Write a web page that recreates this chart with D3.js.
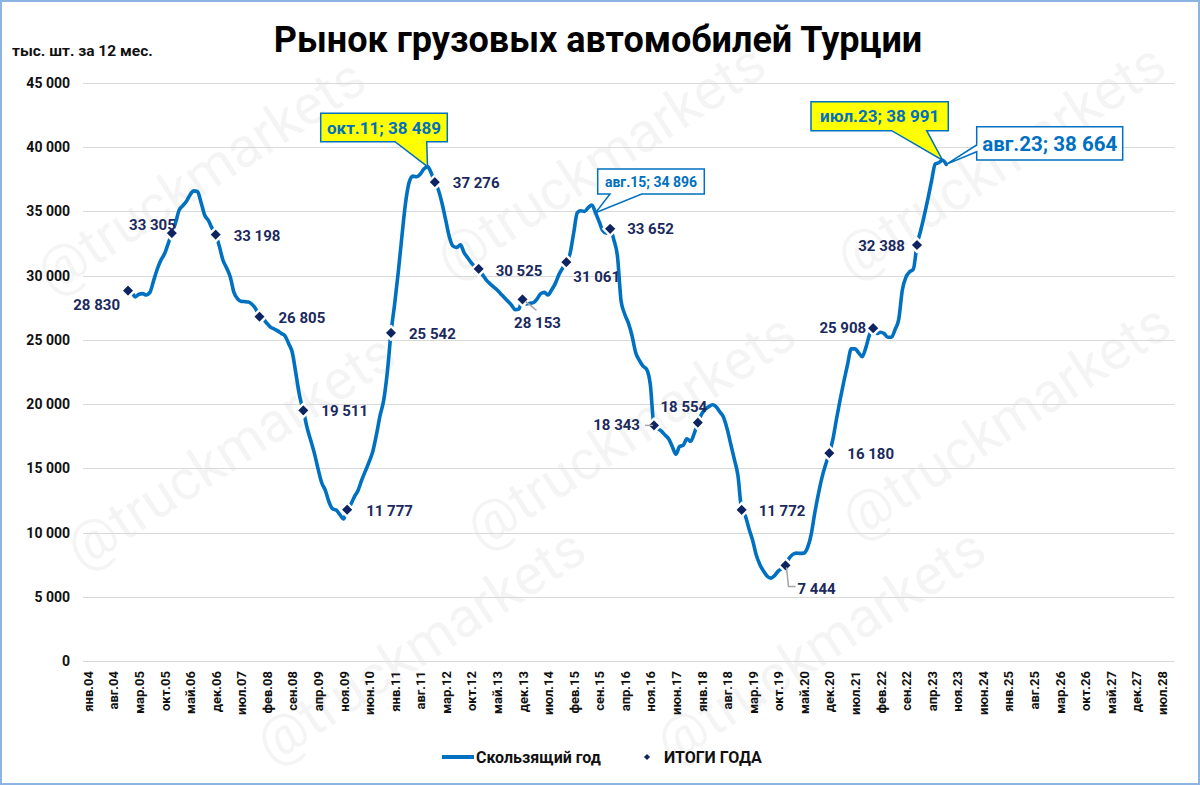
<!DOCTYPE html>
<html><head><meta charset="utf-8">
<script src="https://cdn.jsdelivr.net/npm/d3@7/dist/d3.min.js"></script>
<style>
html,body{margin:0;padding:0;background:#fff;}
svg{display:block;font-family:Roboto,"Noto Sans",sans-serif;}
</style></head>
<body>
<svg id="chart" width="1200" height="785"></svg>
<script>
// ---------------- DATA ----------------
const title = "Рынок грузовых автомобилей Турции";
const yAxisTitle = "тыс. шт. за 12 мес.";
const legendLine = "Скользящий год";
const legendMarker = "ИТОГИ ГОДА";

// x tick labels (every 7th month starting янв.04, month index 0 = янв.04)
const tickLabels = ["янв.04","авг.04","мар.05","окт.05","май.06","дек.06","июл.07","фев.08","сен.08","апр.09","ноя.09","июн.10","янв.11","авг.11","мар.12","окт.12","май.13","дек.13","июл.14","фев.15","сен.15","апр.16","ноя.16","июн.17","янв.18","авг.18","мар.19","окт.19","май.20","дек.20","июл.21","фев.22","сен.22","апр.23","ноя.23","июн.24","янв.25","авг.25","мар.26","окт.26","май.27","дек.27","июл.28"];
const monthCount = 298; // янв.04 .. окт.28 categories on the axis
const yTicks = [0,5000,10000,15000,20000,25000,30000,35000,40000,45000];

// rolling 12-month sales, monthly, starting дек.04 (month index 11) through авг.23
const rollingStart = 11;
const rollingValues = [
  28830,
  28700,28350,28550,28600,28500,28700,29600,30500,31200,31700,32500,33305,
  34100,35100,35450,35800,36300,36600,36550,35700,34700,34300,33700,33198,
  32300,31200,30600,29900,28700,28200,28000,27980,27950,27750,27400,26805,
  26650,26300,26000,25850,25700,25500,25300,24700,24000,22300,20600,19511,
  18200,17200,16200,15000,13900,13300,12400,11850,11750,11400,11050,11777,
  12200,12800,13300,14100,14800,15500,16300,17600,19100,20300,22500,25542,
  27800,30300,33100,35700,37300,37750,37700,37900,38300,38489,38000,37276,
  36650,35600,34300,33000,32300,32200,32400,31800,31400,31000,30700,30525,
  30100,29700,29400,29150,28900,28600,28300,28000,27700,27350,27400,28153,
  27800,27850,27900,28200,28600,28700,28500,28900,29400,30100,30600,31061,
  31700,33300,34900,35050,35000,35300,35500,34896,34200,33500,33300,33652,
  32800,31500,28000,27000,26300,25300,24000,23400,22950,22700,21500,18343,
  18100,17900,17600,17300,16700,16100,16700,16800,17300,17100,17700,18554,
  19200,19600,19800,19950,19800,19400,19000,18100,16900,15700,14400,11772,
  11300,10300,9400,8250,7500,7000,6600,6450,6650,7000,7200,7444,
  8000,8300,8400,8380,8400,8800,9800,11500,13000,14300,15300,16180,
  17300,18900,20400,21800,23100,24300,24300,24000,23700,24400,25400,25908,
  25500,25600,25500,25200,25200,25800,26600,28900,29900,30300,30500,32388,
  33500,34700,36000,37400,38700,38800,38991,38664
];

// year totals (дек. of each year)
const yearLabels = ["2004","2005","2006","2007","2008","2009","2010","2011","2012","2013","2014","2015","2016","2017","2018","2019","2020","2021","2022"];
const yearTotals = [28830,33305,33198,26805,19511,11777,25542,37276,30525,28153,31061,33652,18343,18554,11772,7444,16180,25908,32388];

// highlighted points
const callouts = [
  {label:"окт.11; 38 489", month:93,  value:38489, style:"yellow"},
  {label:"авг.15; 34 896", month:139, value:34896, style:"white"},
  {label:"июл.23; 38 991", month:234, value:38991, style:"yellow"},
  {label:"авг.23; 38 664", month:235, value:38664, style:"whiteBig"}
];

// ---------------- LAYOUT ----------------
const svg = d3.select("#chart");
const W = 1200, H = 785;
const plot = {left:86, right:1174.5, top:83, bottom:661};
const blue = "#0070C0", navy = "#0E2361";
const FONT = "Roboto, sans-serif";

const x = d3.scaleLinear().domain([-0.5, monthCount - 0.5]).range([plot.left, plot.right]);
const y = d3.scaleLinear().domain([0, 45000]).range([plot.bottom, plot.top]);

// frame
svg.append("rect").attr("x",1).attr("y",1).attr("width",W-2).attr("height",H-2)
  .attr("fill","#fff").attr("stroke","#8DB3E2").attr("stroke-width",2);

// watermarks (kept inside the canvas)
const wm = svg.append("g").attr("fill","#000").attr("fill-opacity",0.045)
  .attr("font-family",FONT).attr("font-size",56);
const wmPos = [[200,175],[600,160],[1000,160],[230,450],[630,430],[1005,420],[420,645],[820,645]];
wmPos.forEach(p=>{
  wm.append("text").attr("transform",`translate(${p[0]},${p[1]}) rotate(-33)`)
    .attr("text-anchor","middle").attr("dy","0.35em").text("@truckmarkets");
});

// gridlines
svg.append("g").selectAll("line").data(yTicks).join("line")
  .attr("x1",plot.left-3).attr("x2",plot.right)
  .attr("y1",d=>Math.round(y(d))+0.5).attr("y2",d=>Math.round(y(d))+0.5)
  .attr("stroke","#D9D9D9").attr("stroke-width",1.2);

// y axis
const yAxis = d3.axisLeft(y).tickValues(yTicks).tickSize(0).tickPadding(0)
  .tickFormat(d=> d===0 ? "0" : d3.format(",")(d).replace(/,/g," "));
const gy = svg.append("g").attr("transform",`translate(70,0)`).call(yAxis);
gy.select(".domain").remove();
gy.selectAll("text").attr("font-size",14).attr("font-weight","bold").attr("fill","#111")
  .attr("font-family",FONT);

// x axis
const tickIdx = tickLabels.map((d,i)=>i*7);
const xAxis = d3.axisBottom(x).tickValues(tickIdx).tickSize(0).tickPadding(0)
  .tickFormat((d,i)=>tickLabels[i]);
const gx = svg.append("g").attr("transform",`translate(0,${plot.bottom})`).call(xAxis);
gx.select(".domain").remove();
gx.selectAll("text")
  .attr("font-size",13).attr("font-weight","bold").attr("fill","#111")
  .attr("font-family",FONT)
  .attr("text-anchor","end").attr("dy","0.35em")
  .attr("transform","translate(0,10) rotate(-90)");

// line
const lineData = rollingValues.map((v,i)=>({m:rollingStart+i, v}));
const line = d3.line().x(d=>x(d.m)).y(d=>y(d.v)).curve(d3.curveMonotoneX);
svg.append("path").datum(lineData).attr("d",line)
  .attr("fill","none").attr("stroke",blue).attr("stroke-width",3.6)
  .attr("stroke-linejoin","round").attr("stroke-linecap","round");

// year-total markers
const yearData = yearTotals.map((v,i)=>({m:11+12*i, v, label:d3.format(",")(v).replace(/,/g," ")}));
const diamond = d3.symbol().type(d3.symbolDiamond2).size(115);
svg.append("g").selectAll("path").data(yearData).join("path")
  .attr("d",diamond).attr("transform",d=>`translate(${x(d.m)},${y(d.v)})`)
  .attr("fill",navy).attr("stroke","#fff").attr("stroke-width",2.4);

// label placement [dx, dy, anchor]
const labelPlace = [
  [-8,19,"end"],[4,-3,"end"],[18,6,"start"],[19,6,"start"],[18,6,"start"],[19,6,"start"],
  [18,6,"start"],[18,6,"start"],[17,7,"start"],[15,29,"middle"],[7,20,"start"],[17,5,"start"],
  [-14,5,"end"],[-14,-11,"middle"],[17,6,"start"],[12,29,"start"],[18,6,"start"],[-7,5,"end"],[-12,6,"end"]
];
// leader lines (relative to marker)
const leaders = {9:[[3,2],[14,11]], 12:[[-9,0],[-1,0]], 15:[[1,2],[3,21],[10,21]]};
Object.entries(leaders).forEach(([i,pts])=>{
  const d = yearData[+i];
  svg.append("path").attr("d", d3.line()(pts.map(p=>[x(d.m)+p[0], y(d.v)+p[1]])))
    .attr("fill","none").attr("stroke","#A6A6A6").attr("stroke-width",1.5);
});
svg.append("g").selectAll("text").data(yearData).join("text")
  .attr("x",(d,i)=>x(d.m)+labelPlace[i][0]).attr("y",(d,i)=>y(d.v)+labelPlace[i][1])
  .attr("text-anchor",(d,i)=>labelPlace[i][2])
  .attr("font-size",15).attr("font-weight","bold").attr("fill","#1B2A5E")
  .attr("font-family",FONT)
  .text(d=>d.label);

// callouts
const calloutBoxes = [
  {x0:320.7, y0:113.3, x1:447.3, y1:141.7, side:"bottom", b0:395, b1:426.7, fs:17},
  {x0:597.7, y0:169,   x1:704.3, y1:194,   side:"bottom", b0:610, b1:641.7, fs:14},
  {x0:811,   y0:101.7, x1:948.3, y1:130.7, side:"bottom", b0:891.7, b1:926.7, fs:17},
  {x0:976.7, y0:126.7, x1:1122.7,y1:160,   side:"left",   b0:145, b1:151.7, fs:20.5}
];
callouts.forEach((c,i)=>{
  const b = calloutBoxes[i];
  const tx = x(c.month), ty = y(c.value);
  let pts;
  if (b.side==="bottom") {
    pts = [[b.x0,b.y0],[b.x1,b.y0],[b.x1,b.y1],[b.b1,b.y1],[tx,ty],[b.b0,b.y1],[b.x0,b.y1]];
  } else {
    pts = [[b.x0,b.y0],[b.x1,b.y0],[b.x1,b.y1],[b.x0,b.y1],[b.x0,b.b1],[tx,ty],[b.x0,b.b0]];
  }
  svg.append("path").attr("d", d3.line()(pts)+"Z")
    .attr("fill", c.style==="yellow" ? "#FFFF00" : "#FFFFFF")
    .attr("stroke", blue).attr("stroke-width",1.5).attr("stroke-linejoin","miter");
  svg.append("text").attr("x",(b.x0+b.x1)/2).attr("y",(b.y0+b.y1)/2)
    .attr("dy","0.36em").attr("text-anchor","middle")
    .attr("font-size",b.fs).attr("font-weight","bold").attr("fill",blue)
    .attr("font-family",FONT)
    .text(c.label);
});

// title & axis title
svg.append("text").attr("x",598).attr("y",52).attr("text-anchor","middle")
  .attr("font-size",36).attr("font-weight","bold").attr("fill","#000")
  .attr("font-family",FONT).text(title);
svg.append("text").attr("x",12).attr("y",56)
  .attr("font-size",15.5).attr("font-weight","bold").attr("fill","#111")
  .attr("font-family",FONT).text(yAxisTitle);

// legend
const lg = svg.append("g").attr("font-family",FONT)
  .attr("font-size",16).attr("font-weight","bold").attr("fill","#111");
lg.append("line").attr("x1",442).attr("x2",474).attr("y1",757).attr("y2",757)
  .attr("stroke",blue).attr("stroke-width",4);
lg.append("text").attr("x",476).attr("y",763).text(legendLine);
lg.append("path").attr("d",d3.symbol().type(d3.symbolDiamond2).size(24))
  .attr("transform","translate(647,757)").attr("fill",navy);
lg.append("text").attr("x",664).attr("y",763).text(legendMarker);
</script>
</body></html>
